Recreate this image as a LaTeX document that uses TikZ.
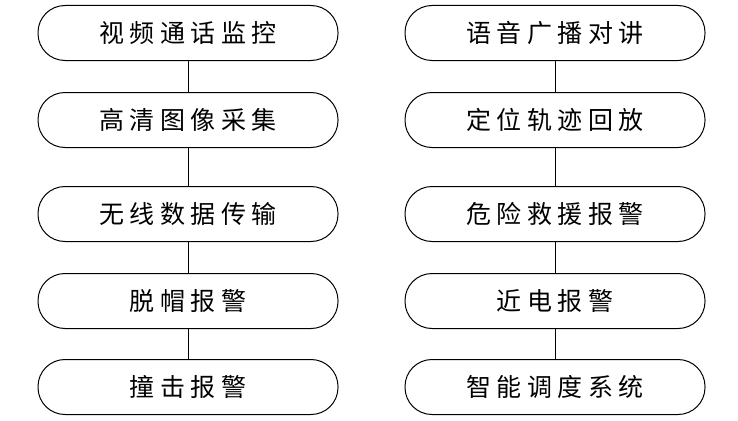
\documentclass[tikz,border=0pt]{standalone}
\usepackage{fontspec}
\newfontfamily\cjk[LetterSpace=22]{Noto Sans CJK SC}
\usetikzlibrary{positioning}
\tikzset{
	box/.style={draw, line width=1pt, rounded corners=27pt, minimum width=300pt, minimum height=55pt, font=\cjk\fontsize{25}{25}\selectfont},
	link/.style={line width=1pt}
}
\begin{document}
\begin{tikzpicture}[x=1pt,y=1pt]
		\useasboundingbox (0,0) rectangle (738,-420);
		\node (L1) [box] at (188,-33){视频通话监控};
		\node (L2) [box] at (188,-120){高清图像采集};
		\node (L3) [box] at (188,-214){无线数据传输};
		\node (L4) [box] at (188,-301){脱帽报警};
		\node (L5) [box] at (188,-387){撞击报警};
		%
		\node (R1) [box] at (555,-33){语音广播对讲};
		\node (R2) [box] at (555,-120){定位轨迹回放};
		\node (R3) [box] at (555,-214){危险救援报警};
		\node (R4) [box] at (555,-301){近电报警};
		\node (R5) [box] at (555,-387){智能调度系统};
		%
		\foreach \a/\b in {1/2,2/3,3/4,4/5}{
			\draw [link] (L\a) -- (L\b);
			\draw [link] (R\a) -- (R\b);
		}
	\end{tikzpicture}
\end{document}
